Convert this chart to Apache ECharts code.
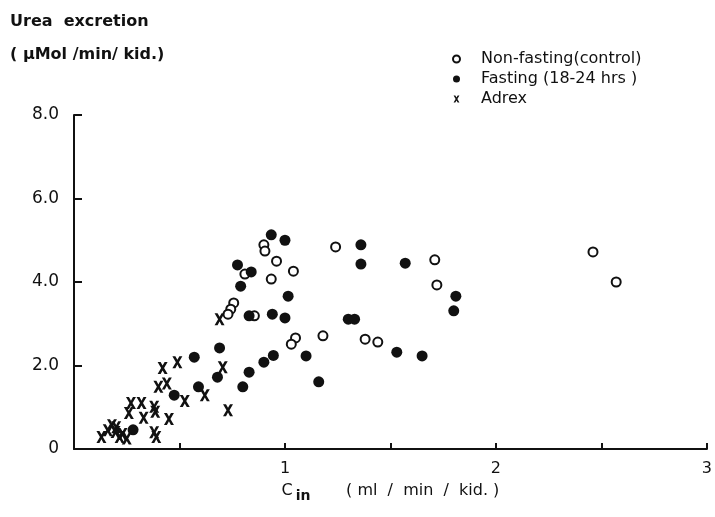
<!DOCTYPE html>
<html>
<head>
<meta charset="utf-8">
<script src="https://cdn.jsdelivr.net/npm/echarts@6/dist/echarts.min.js"></script>
<style>
  html, body { margin: 0; padding: 0; background: #fff; }
  #chart { width: 715px; height: 517px; }
</style>
</head>
<body>
<div id="chart"></div>
<script>
// data: [Cin, urea excretion]
const nonFasting = [
  [0.90, 4.89], [0.905, 4.74], [0.96, 4.50], [1.04, 4.26], [0.935, 4.07],
  [0.81, 4.19], [0.757, 3.50], [0.743, 3.35], [0.73, 3.23], [0.855, 3.19],
  [1.24, 4.84], [1.05, 2.66], [1.03, 2.51], [1.18, 2.71], [1.38, 2.63],
  [1.44, 2.56], [1.71, 4.53], [1.72, 3.93], [2.46, 4.72], [2.57, 4.00]
];
const fasting = [
  [0.28, 0.46], [0.475, 1.29], [0.57, 2.20], [0.59, 1.49], [0.69, 2.42],
  [0.68, 1.72], [0.80, 1.49], [0.83, 1.84], [0.90, 2.08], [0.945, 2.24],
  [1.10, 2.23], [1.16, 1.61], [0.935, 5.13], [1.00, 5.00], [0.775, 4.41],
  [0.84, 4.24], [0.79, 3.90], [1.015, 3.66], [0.83, 3.19], [0.94, 3.23],
  [1.00, 3.14], [1.30, 3.11], [1.33, 3.11], [1.36, 4.89], [1.36, 4.43],
  [1.57, 4.45], [1.81, 3.66], [1.80, 3.31], [1.53, 2.32], [1.65, 2.23]
];
const adrex = [
  [0.69, 3.11], [0.705, 1.96], [0.73, 0.93], [0.62, 1.29], [0.525, 1.15],
  [0.49, 2.08], [0.42, 1.94], [0.44, 1.57], [0.40, 1.49], [0.45, 0.72],
  [0.39, 0.29], [0.38, 0.40], [0.38, 1.01], [0.385, 0.89], [0.32, 1.10],
  [0.33, 0.75], [0.27, 1.10], [0.26, 0.86], [0.18, 0.57], [0.20, 0.52],
  [0.16, 0.45], [0.13, 0.29], [0.197, 0.41], [0.216, 0.29], [0.25, 0.25],
  [0.23, 0.36]
];
const seriesNames = ['Non-fasting(control)', 'Fasting (18-24 hrs )', 'Adrex'];
const yTicks = [0, 2, 4, 6, 8];
const xTicks = [1, 2, 3];

const font = 'DejaVu Sans';
const ink = '#111';
// thick "X" glyph, drawn filled
const crossPath = 'path://M0,0L3,0L5,3.6L7,0L10,0L6.5,6L10,12L7,12L5,8.4L3,12L0,12L3.5,6Z';

const chart = echarts.init(document.getElementById('chart'));
chart.setOption({
  animation: false,
  textStyle: { fontFamily: font, color: ink },
  grid: { left: 74, right: 3, top: 115, bottom: 68 },
  graphic: [
    { type: 'text', left: 10, top: 14,
      style: { text: 'Urea  excretion', font: 'bold 16px ' + font, fill: ink } },
    { type: 'text', left: 10, top: 47,
      style: { text: '( \u03bcMol /min/ kid.)', font: 'bold 16px ' + font, fill: ink } }
  ],
  legend: {
    orient: 'vertical',
    left: 447,
    top: 46,
    itemGap: 4,
    itemWidth: 7,
    itemHeight: 7,
    textStyle: { fontSize: 16, color: ink, fontFamily: font, padding: [0, 0, 0, 16] },
    data: [
      { name: seriesNames[0], icon: 'circle' },
      { name: seriesNames[1], icon: 'circle' },
      { name: seriesNames[2], icon: crossPath }
    ]
  },
  xAxis: {
    type: 'value',
    min: 0,
    max: 3,
    interval: 0.5,
    splitLine: { show: false },
    axisLine: { lineStyle: { color: ink, width: 2 } },
    axisTick: { inside: true, length: 6, lineStyle: { color: ink, width: 2 } },
    axisLabel: {
      fontSize: 16, color: ink, margin: 12,
      formatter: v => (xTicks.indexOf(v) >= 0 ? String(v) : '')
    },
    name: '{c|C}{s|in}{t|       ( ml  /  min  /  kid. )}',
    nameLocation: 'middle',
    nameGap: 30,
    nameTextStyle: {
      rich: {
        c: { fontSize: 16, fontFamily: font, color: ink },
        s: { fontSize: 14, fontFamily: font, color: ink, padding: [10, 0, 0, 3], fontWeight: 'bold' },
        t: { fontSize: 16, fontFamily: font, color: ink }
      }
    }
  },
  yAxis: {
    type: 'value',
    min: 0,
    max: 8,
    interval: 2,
    splitLine: { show: false },
    axisLine: { lineStyle: { color: ink, width: 2 } },
    axisTick: { inside: true, length: 8, lineStyle: { color: ink, width: 2 } },
    axisLabel: {
      fontSize: 17, color: ink, margin: 15,
      formatter: v => (yTicks.indexOf(v) >= 0 ? (v === 0 ? '0' : v.toFixed(1)) : '')
    }
  },
  series: [
    {
      name: seriesNames[0], type: 'scatter', data: nonFasting,
      symbol: 'circle', symbolSize: 9,
      itemStyle: { color: '#fff', borderColor: ink, borderWidth: 2, opacity: 1 }
    },
    {
      name: seriesNames[1], type: 'scatter', data: fasting,
      symbol: 'circle', symbolSize: 11,
      itemStyle: { color: ink, opacity: 1 }
    },
    {
      name: seriesNames[2], type: 'scatter', data: adrex,
      symbol: crossPath, symbolSize: [10, 12],
      itemStyle: { color: ink, opacity: 1 }
    }
  ]
});
</script>
</body>
</html>
